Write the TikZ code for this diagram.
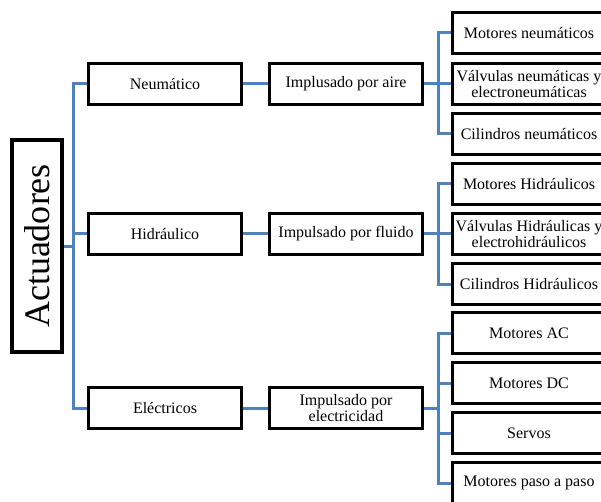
\documentclass[tikz,border=0pt]{standalone}
\usepackage{fontspec}
\setmainfont{Liberation Serif}
\usetikzlibrary{calc}
\definecolor{linkblue}{RGB}{79,129,189}
\tikzset{
	box/.style={draw=black, line width=3.5pt, fill=white, minimum width=153pt, minimum height=41pt, inner sep=1pt, align=center, font=\fontsize{16}{14}\selectfont},
	link/.style={draw=linkblue, line width=3pt}
}

\begin{document}
\begin{tikzpicture}[x=1pt, y=-1pt]
			%%%%% START %%%%%
			\useasboundingbox (0, 0) rectangle (601, 502);
			\clip (0, 0) rectangle (601, 502);
			
			\node[box, rotate=90, minimum width=212pt, minimum height=50pt, font=\fontsize{36}{36}\selectfont] (root) at (37, 246) {Actuadores};
			\coordinate (spL) at (73, 0);
			\coordinate (spR) at (438, 0);
			
			\node[box] (neu) at (165, 84) {Neumático};
			\node[box] (air) at (346, 84) {Implusado por aire};
			\node[box] (hid) at (165, 234) {Hidráulico};
			\node[box] (flu) at (346, 234) {Impulsado por fluido};
			\node[box] (ele) at (165, 408) {Eléctricos};
			\node[box] (elc) at (346, 408) {Impulsado por\\electricidad};
			
			\node[box] (mn) at (529, 33) {Motores neumáticos};
			\node[box] (vn) at (529, 84) {Válvulas neumáticas y\\electroneumáticas};
			\node[box] (cn) at (529, 134) {Cilindros neumáticos};
			
			\node[box] (mh) at (529, 184) {Motores Hidráulicos};
			\node[box] (vh) at (529, 234) {Válvulas Hidráulicas y\\electrohidráulicos};
			\node[box] (ch) at (529, 284) {Cilindros Hidráulicos};
			
			\node[box] (ac) at (529, 333) {Motores AC};
			\node[box] (dc) at (529, 383) {Motores DC};
			\node[box] (sv) at (529, 433) {Servos};
			\node[box] (pp) at (529, 483) {Motores paso a paso};
			
			\draw[link] (root.south) -- (root.south -| spL);
			\draw[link] (neu.west) -- (neu.west -| spL) -- (ele.west -| spL) -- (ele.west);
			\draw[link] (hid.west) -- (hid.west -| spL);
			
			\draw[link] (neu.east) -- (air.west);
			\draw[link] (hid.east) -- (flu.west);
			\draw[link] (ele.east) -- (elc.west);
			
			\draw[link] (mn.west) -- (mn.west -| spR) -- (cn.west -| spR) -- (cn.west);
			\draw[link] (air.east) -- (vn.west);
			
			\draw[link] (mh.west) -- (mh.west -| spR) -- (ch.west -| spR) -- (ch.west);
			\draw[link] (flu.east) -- (vh.west);
			
			\draw[link] (ac.west) -- (ac.west -| spR) -- (pp.west -| spR) -- (pp.west);
			\draw[link] (dc.west) -- (dc.west -| spR);
			\draw[link] (sv.west) -- (sv.west -| spR);
			\draw[link] (elc.east) -- (elc.east -| spR);
			%%%%% END %%%%%
\end{tikzpicture}
\end{document}
